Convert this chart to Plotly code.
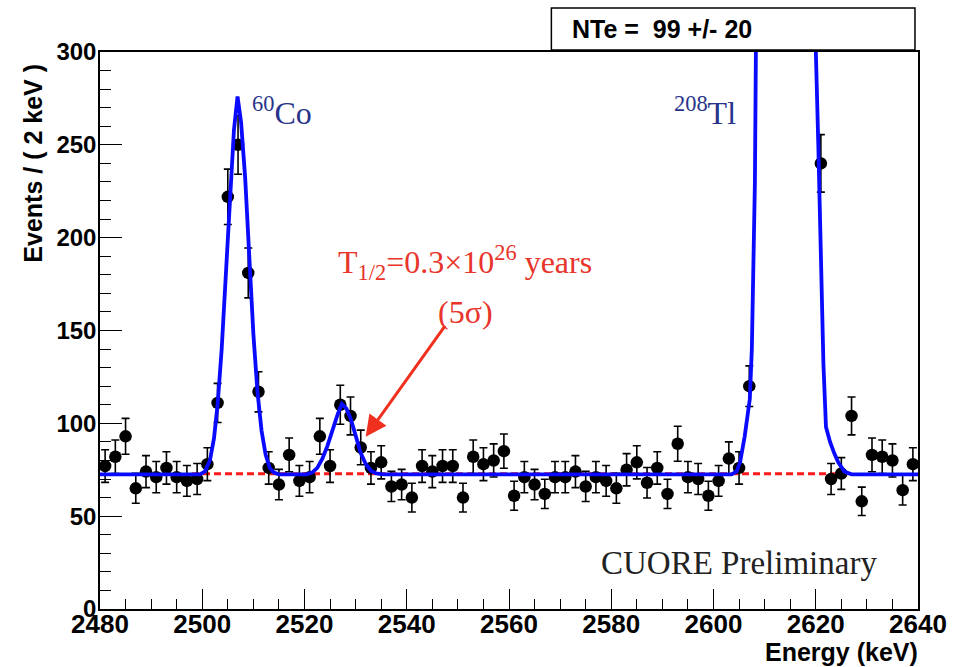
import numpy as np
import plotly.graph_objects as go

# ---- data ----
bin_centers = list(range(2481, 2640, 2))
counts = [77, 82, 93, 65, 74, 71, 76, 71, 69, 70,
          78, 111, 222, 250, 181, 117, 76, 67, 83, 69,
          71, 93, 77, 110, 104, 87, 76, 79, 66, 67,
          60, 77, 74, 77, 77, 60, 82, 78, 80, 85,
          61, 71, 67, 62, 71, 71, 74, 66, 71, 69,
          65, 75, 79, 68, 76, 62, 89, 71, 70, 61,
          69, 81, 76, 120, 520, 1650, 2900, 2700, 1500, 620,
          240, 70, 73, 104, 58, 83, 82, 80, 64, 78]

fit_energy = [2480, 2499.5, 2500.5, 2501.5, 2502.3, 2503.0, 2503.8, 2504.6, 2505.4, 2506.2,
              2506.9, 2507.6, 2508.4, 2509.2, 2510.0, 2510.8, 2511.6, 2512.4, 2513.2, 2514.0,
              2515.0, 2520.5, 2521.5, 2522.5, 2523.5, 2524.5, 2525.5, 2526.5, 2527.3, 2528.2,
              2529.1, 2530.0, 2531.0, 2532.0, 2533.0, 2534.0, 2535.5, 2603.5, 2604.5, 2605.2,
              2606.1, 2607.1, 2607.5, 2608.1, 2608.5, 2609.0, 2614.3, 2619.6, 2620.0, 2620.5,
              2621.0, 2621.5, 2622.0, 2622.8, 2623.6, 2624.4, 2625.6, 2627.0, 2640]
fit_counts = [72.5, 72.5, 74, 80, 92, 110, 140, 180, 222, 258,
              276, 262, 232, 190, 148, 117, 96, 83, 76, 73.5,
              72.5, 72.5, 73.5, 76, 81, 88, 97, 105, 110.5, 108,
              102, 93, 84, 78, 74.5, 73, 72.5, 72.5, 74, 79,
              93, 113, 140, 230, 302, 420, 2500, 420, 302, 250,
              190, 132, 98, 90, 84, 79, 74, 72.5, 72.5]

bkg_energy = [2498, 2626]
bkg_counts = [72.8, 72.8]

x_ticks = [2480, 2500, 2520, 2540, 2560, 2580, 2600, 2620, 2640]
y_ticks = [0, 50, 100, 150, 200, 250, 300]

errors = [float(np.sqrt(c)) for c in counts]

fig = go.Figure()

fig.add_trace(go.Scatter(
    x=bkg_energy, y=bkg_counts, mode="lines",
    line=dict(color="#ff1a1a", width=3, dash="7px,4px"),
    hoverinfo="skip", showlegend=False))

fig.add_trace(go.Scatter(
    x=bin_centers, y=counts, mode="markers",
    marker=dict(color="black", size=12.5),
    error_y=dict(type="data", array=errors, visible=True,
                 color="black", thickness=1.6, width=4),
    showlegend=False))

fig.add_trace(go.Scatter(
    x=fit_energy, y=fit_counts, mode="lines",
    line=dict(color="#0a0aff", width=3.8),
    hoverinfo="skip", showlegend=False))

fig.update_layout(
    width=959, height=667,
    margin=dict(l=100, r=38, t=52, b=58),
    paper_bgcolor="white", plot_bgcolor="white",
    xaxis=dict(range=[2480, 2640], tickvals=x_ticks, ticks="inside", ticklen=20,
               tickwidth=1.2, tickcolor="black", showline=True, linecolor="black",
               linewidth=1.5, mirror=True, showgrid=False, zeroline=False,
               ticklabelstandoff=-9,
               tickfont=dict(family="Liberation Sans", size=26, color="black", weight="bold"),
               minor=dict(dtick=5, ticks="inside", ticklen=10, tickcolor="black", tickwidth=1)),
    yaxis=dict(range=[0, 300], tickvals=y_ticks, ticks="inside", ticklen=22,
               tickwidth=1.2, tickcolor="black", showline=True, linecolor="black",
               linewidth=1.5, mirror=True, showgrid=False, zeroline=False,
               ticklabelstandoff=-3,
               tickfont=dict(family="Liberation Sans", size=24, color="black", weight="bold"),
               minor=dict(dtick=10, ticks="inside", ticklen=11, tickcolor="black", tickwidth=1)),
)

serif = "Liberation Serif"
annots = [
    dict(x=2515.6, y=268, xref="x", yref="y", text="<sup>60</sup>Co", showarrow=False,
         font=dict(family=serif, size=32, color="#28348a"), xanchor="center", yanchor="middle"),
    dict(x=2598.3, y=268, xref="x", yref="y", text="<sup>208</sup>Tl", showarrow=False,
         font=dict(family=serif, size=32, color="#28348a"), xanchor="center", yanchor="middle"),
    dict(x=2551.4, y=186.7, xref="x", yref="y",
         text="T<sub>1/2</sub>=0.3×10<sup>26</sup> years", showarrow=False,
         font=dict(family=serif, size=32, color="#e8342a"), xanchor="center", yanchor="middle"),
    dict(x=2551.4, y=160, xref="x", yref="y", text="(5σ)", showarrow=False,
         font=dict(family=serif, size=32, color="#e8342a"), xanchor="center", yanchor="middle"),
    dict(x=2531.97, y=92.8, xref="x", yref="y", ax=2547.7, ay=153.3, axref="x", ayref="y",
         text="", showarrow=True, arrowhead=2, arrowsize=1.4, arrowwidth=3,
         arrowcolor="#f0301e"),
    dict(x=2604.9, y=24.8, xref="x", yref="y", text="CUORE Preliminary", showarrow=False,
         font=dict(family=serif, size=33, color="#222222"), xanchor="center", yanchor="middle"),
    dict(x=0.575, y=1.0413, xref="paper", yref="paper", text="<b>NTe =  99 +/- 20</b>",
         showarrow=False, font=dict(family="Liberation Sans", size=25, color="black"),
         xanchor="left", yanchor="middle"),
    dict(x=1.002, y=-0.078, xref="paper", yref="paper", text="<b>Energy (keV)</b>",
         showarrow=False, font=dict(family="Liberation Sans", size=25, color="black"),
         xanchor="right", yanchor="middle"),
    dict(x=-0.0816, y=0.8, xref="paper", yref="paper", text="<b>Events / ( 2 keV )</b>",
         showarrow=False, textangle=-90, font=dict(family="Liberation Sans", size=25, color="black"),
         xanchor="center", yanchor="middle"),
]
fig.update_layout(annotations=annots)

fig.add_shape(type="rect", xref="paper", yref="paper",
              x0=0.5518, x1=0.9963, y0=1.0036, y1=1.079,
              line=dict(color="black", width=1.5), fillcolor="white", layer="above")

fig.write_html("out.html")
